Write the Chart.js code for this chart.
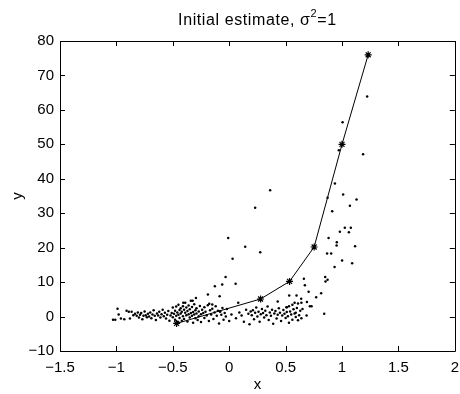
<!DOCTYPE html>
<html><head><meta charset="utf-8">
<script src="https://cdn.jsdelivr.net/npm/chart.js@4.4.1/dist/chart.umd.min.js"></script>
<style>html,body{margin:0;padding:0;background:#fff}#wrap{width:460px;height:394px}</style>
</head><body><div id="wrap"><canvas id="c" width="460" height="394"></canvas></div>
<script>
const xTicks = [-1.5, -1, -0.5, 0, 0.5, 1, 1.5, 2];
const yTicks = [-10, 0, 10, 20, 30, 40, 50, 60, 70, 80];
const lineX = [-0.466, 0.278, 0.535, 0.753, 1.0, 1.232];
const lineY = [-2.0, 5.1, 10.2, 20.2, 50.0, 76.0];
const dataX = [
-1.03,-1.01,-0.99,-0.98,-0.96,-0.93,-0.91,-0.89,-0.88,-0.865,-0.85,-0.835,-0.82,-0.81,-0.80,-0.79,-0.78,-0.77,-0.76,-0.75,-0.74,-0.73,-0.72,-0.71,-0.70,-0.69,-0.68,-0.67,-0.66,-0.65,-0.64,-0.63,-0.62,-0.61,-0.60,-0.59,-0.58,-0.57,-0.56,-0.55,-0.54,-0.53,-0.52,-0.51,-0.50,-0.50,
-0.49,-0.48,-0.48,-0.47,-0.47,-0.46,-0.46,-0.45,-0.45,-0.44,-0.44,-0.43,-0.43,-0.42,-0.42,-0.41,-0.41,-0.40,-0.40,-0.39,-0.39,-0.38,-0.38,-0.37,-0.37,-0.36,-0.36,-0.35,-0.35,-0.34,-0.34,-0.33,-0.33,-0.32,-0.32,-0.31,-0.31,-0.30,-0.30,
-0.29,-0.29,-0.28,-0.27,-0.27,-0.26,-0.25,-0.25,-0.24,-0.23,-0.22,-0.22,-0.21,-0.20,-0.19,-0.18,-0.17,-0.16,-0.15,-0.14,-0.13,-0.12,-0.11,-0.10,-0.09,-0.08,-0.07,-0.06,-0.05,-0.04,-0.03,-0.02,0.00,0.02,
-0.295,-0.189,-0.085,-0.177,-0.150,0.080,-0.407,-0.324,-0.082,-0.127,-0.062,0.057,-0.032,0.030,-0.009,0.142,0.275,0.230,0.363,
0.06,0.09,0.11,0.13,0.15,0.17,0.18,0.19,
0.20,0.21,0.22,0.23,0.24,0.25,0.26,0.27,0.28,0.29,0.30,0.31,0.32,0.33,0.34,0.35,0.36,0.37,0.38,0.39,0.40,0.41,0.42,0.43,0.43,0.44,0.45,0.46,0.47,0.48,0.49,0.50,0.51,0.51,0.52,0.53,0.53,0.54,0.55,0.56,0.56,0.57,0.58,0.58,0.59,0.59,0.60,0.61,0.61,0.62,0.63,0.64,0.64,0.65,
0.532,0.597,0.638,0.689,0.715,0.730,0.508,0.686,0.842,0.662,0.671,0.704,0.815,0.771,
0.872,0.854,0.851,0.868,0.904,0.934,1.001,1.090,0.952,0.954,1.116,0.881,0.981,1.061,1.025,1.078,0.913,0.872,1.070,1.129,1.010,0.937,0.972,1.187,1.005,1.223
];
const dataY = [
-0.9,-0.9,2.3,0.6,-0.6,-0.8,1.7,1.4,-0.6,1.4,0.4,0.8,0.2,1.2,-0.3,0.5,1.0,-0.8,0.2,1.5,0.4,-0.2,0.8,0.0,1.2,-0.5,0.6,1.8,0.2,-1.0,0.9,0.3,1.4,-0.3,0.7,2.0,0.1,1.1,-0.6,0.5,1.6,-1.2,0.3,1.0,2.6,-0.2,
0.8,1.7,-0.9,0.2,2.9,1.2,-1.6,0.5,3.4,1.9,-0.4,0.9,2.4,-1.2,1.4,0.1,3.0,2.0,-0.7,1.1,4.0,0.4,2.6,-1.4,1.6,0.7,3.2,-0.3,2.1,1.0,4.6,0.2,2.8,-1.8,1.3,0.6,3.6,1.8,-0.5,
0.9,2.4,-1.0,1.5,0.1,3.1,0.7,-1.6,2.0,1.0,-0.4,2.7,1.4,0.3,3.3,-1.3,1.8,0.6,2.3,-0.7,1.2,3.0,0.2,1.7,-2.0,1.5,0.5,2.5,-0.9,1.0,0.0,2.2,-1.3,0.6,
5.4,6.4,5.9,3.7,3.5,4.0,4.0,4.6,1.5,8.8,9.3,9.5,11.5,16.8,22.8,20.3,18.7,31.6,36.7,
-0.5,1.2,0.3,-1.5,2.0,0.8,-2.2,1.5,
0.4,1.8,-0.8,1.1,2.6,0.0,1.4,-1.5,0.7,2.2,1.0,-0.3,1.7,0.4,2.9,-1.0,1.2,0.2,2.0,-2.1,0.9,1.6,-0.6,4.4,0.5,2.4,1.1,-1.3,0.3,1.9,0.8,-0.4,2.7,1.3,0.1,3.0,-1.8,1.5,0.6,3.4,-0.9,2.1,4.0,0.9,-0.1,1.1,2.5,3.8,-1.1,0.4,1.7,4.0,-0.5,2.2,
6.1,6.1,5.2,4.2,3.0,3.0,2.7,0.3,0.8,11.0,9.1,7.2,6.8,5.6,
10.7,10.2,11.5,18.3,18.3,14.4,16.3,15.5,20.6,21.6,20.4,22.8,24.6,24.5,25.8,25.8,30.6,34.5,32.2,34.0,35.4,38.6,48.3,47.1,56.4,63.9
];

const FONT = 'Liberation Sans, Arial, Helvetica, sans-serif';
const fmt = v => String(v).replace('-', '\u2212');

const boxPlugin = {
  id: 'box',
  afterDraw(chart) {
    const ctx = chart.ctx, a = chart.chartArea;
    const xs = chart.scales.x, ys = chart.scales.y;
    ctx.save();
    ctx.strokeStyle = '#000';
    ctx.lineWidth = 1;
    ctx.beginPath();
    ctx.rect(Math.round(a.left) + 0.5, Math.round(a.top) + 0.5, Math.round(a.right - a.left), Math.round(a.bottom - a.top));
    const L = 5;
    xs.ticks.forEach(t => {
      const p = Math.round(xs.getPixelForValue(t.value)) + 0.5;
      ctx.moveTo(p, a.bottom); ctx.lineTo(p, a.bottom - L);
      ctx.moveTo(p, a.top); ctx.lineTo(p, a.top + L);
    });
    ys.ticks.forEach(t => {
      const p = Math.round(ys.getPixelForValue(t.value)) + 0.5;
      ctx.moveTo(a.left, p); ctx.lineTo(a.left + L, p);
      ctx.moveTo(a.right, p); ctx.lineTo(a.right - L, p);
    });
    ctx.stroke();
    // title with superscript
    const main1 = 'Initial estimate, \u03c3', sup = '2', main2 = '=1';
    ctx.fillStyle = '#000';
    ctx.textBaseline = 'alphabetic';
    ctx.letterSpacing = '0.6px';
    ctx.font = '16px ' + FONT;
    const w1 = ctx.measureText(main1).width, w3 = ctx.measureText(main2).width;
    ctx.font = '11px ' + FONT;
    const w2 = ctx.measureText(sup).width;
    const cx = (a.left + a.right) / 2;
    let x0 = cx - (w1 + w2 + w3) / 2;
    const base = 25;
    ctx.font = '16px ' + FONT;
    ctx.fillText(main1, x0, base);
    ctx.font = '11px ' + FONT;
    ctx.fillText(sup, x0 + w1, base - 8);
    ctx.font = '16px ' + FONT;
    ctx.fillText(main2, x0 + w1 + w2, base);
    ctx.letterSpacing = '0px';
    ctx.restore();
  }
};

new Chart(document.getElementById('c'), {
  type: 'scatter',
  data: {
    datasets: [
      {
        data: dataX.map((x, i) => ({x, y: dataY[i]})),
        pointRadius: 1.25, pointHoverRadius: 1.25,
        backgroundColor: '#000', borderWidth: 0, pointStyle: 'circle',
        showLine: false, order: 2
      },
      {
        data: lineX.map((x, i) => ({x, y: lineY[i]})),
        showLine: true, borderColor: '#000', borderWidth: 1,
        pointStyle: 'star', pointRadius: 3.5, pointBorderColor: '#000',
        pointBorderWidth: 1.2, pointBackgroundColor: '#000', order: 1
      }
    ]
  },
  options: {
    responsive: false, animation: false, devicePixelRatio: 1,
    layout: { padding: { top: 41, right: 4, left: 0, bottom: 0 } },
    plugins: { legend: { display: false }, title: { display: false }, tooltip: { enabled: false } },
    scales: {
      x: {
        type: 'linear', min: -1.5, max: 2,
        afterBuildTicks: s => { s.ticks = xTicks.map(v => ({value: v})); },
        afterFit: s => { s.height = 43; s.paddingLeft = 0; s.paddingRight = 0; },
        grid: { display: false, drawTicks: false }, border: { display: false },
        ticks: { color: '#000', font: { family: FONT, size: 15 }, padding: 8, maxRotation: 0, autoSkip: false, callback: v => fmt(v) },
        title: { display: true, text: 'x', color: '#000', font: { family: FONT, size: 15 }, padding: 0 }
      },
      y: {
        type: 'linear', min: -10, max: 80,
        afterBuildTicks: s => { s.ticks = yTicks.map(v => ({value: v})); },
        afterFit: s => { s.width = 60; s.paddingTop = 0; s.paddingBottom = 0; },
        grid: { display: false, drawTicks: false }, border: { display: false },
        ticks: { color: '#000', font: { family: FONT, size: 15 }, padding: 6, autoSkip: false, callback: v => fmt(v) },
        title: { display: true, text: 'y', color: '#000', font: { family: FONT, size: 15 }, padding: 9 }
      }
    }
  },
  plugins: [boxPlugin]
});
</script></body></html>
